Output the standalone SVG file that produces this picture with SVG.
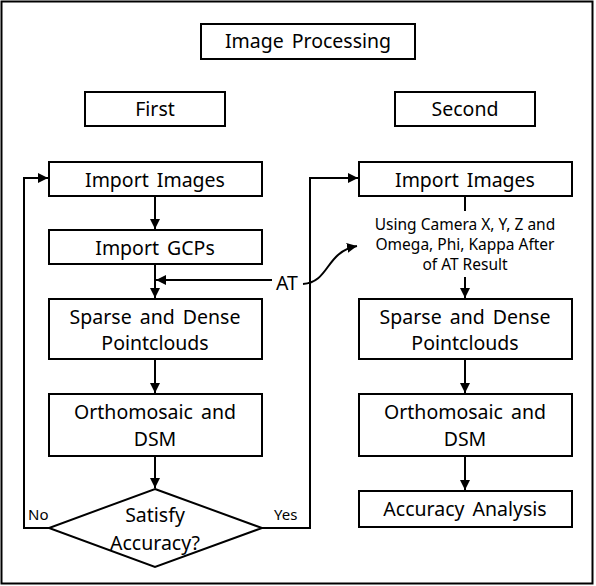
<svg xmlns="http://www.w3.org/2000/svg" width="596" height="586" viewBox="0 0 596 586">
<style>
.box{fill:#fff;stroke:#000;stroke-width:2}
.t{font-family:"Noto Sans","Liberation Sans",sans-serif;font-size:19.5px;fill:#000;text-anchor:middle;word-spacing:3px}
.s{font-family:"Noto Sans","Liberation Sans",sans-serif;font-size:15.5px;fill:#000;text-anchor:middle}
.l{font-family:"Noto Sans","Liberation Sans",sans-serif;font-size:15px;fill:#000}
.c{fill:none;stroke:#000;stroke-width:2}
</style>
<defs>
<marker id="a" viewBox="0 0 10 10" refX="10" refY="5" markerWidth="5" markerHeight="5" orient="auto" markerUnits="strokeWidth">
<path d="M0,0 L10,5 L0,10 z" fill="#000"/>
</marker>
</defs>
<rect x="1.5" y="1.5" width="591" height="582" fill="#fff" stroke="#000" stroke-width="2"/>
<g id="title"><rect class="box" x="201" y="24" width="214" height="35"/><text class="t" x="308" y="48">Image Processing</text></g>
<g id="first"><rect class="box" x="85" y="92" width="140" height="34"/><text class="t" x="155" y="116">First</text></g>
<g id="second"><rect class="box" x="395" y="92" width="140" height="34"/><text class="t" x="465" y="116">Second</text></g>
<g id="l1"><rect class="box" x="49" y="162" width="213" height="34"/><text class="t" x="155" y="187">Import Images</text></g>
<g id="l2"><rect class="box" x="49" y="230" width="213" height="34"/><text class="t" x="155" y="255">Import GCPs</text></g>
<g id="l3"><rect class="box" x="49" y="299" width="213" height="60"/><text class="t" x="155" y="324">Sparse and Dense</text><text class="t" x="155" y="350">Pointclouds</text></g>
<g id="l4"><rect class="box" x="49" y="394" width="213" height="62"/><text class="t" x="155" y="419">Orthomosaic and</text><text class="t" x="155" y="446">DSM</text></g>
<g id="l5"><polygon class="box" points="155,489 262,528 155,567 49,528"/><text class="t" x="155" y="522">Satisfy</text><text class="t" x="155" y="550">Accuracy?</text></g>
<g id="r1"><rect class="box" x="359" y="162" width="213" height="34"/><text class="t" x="465" y="187">Import Images</text></g>
<g id="rnote"><text class="s" x="465" y="230">Using Camera X, Y, Z and</text><text class="s" x="465" y="250">Omega, Phi, Kappa After</text><text class="s" x="465" y="270">of AT Result</text></g>
<g id="r3"><rect class="box" x="359" y="299" width="213" height="60"/><text class="t" x="465" y="324">Sparse and Dense</text><text class="t" x="465" y="350">Pointclouds</text></g>
<g id="r4"><rect class="box" x="359" y="394" width="213" height="62"/><text class="t" x="465" y="419">Orthomosaic and</text><text class="t" x="465" y="446">DSM</text></g>
<g id="r5"><rect class="box" x="359" y="491" width="213" height="36"/><text class="t" x="465" y="516">Accuracy Analysis</text></g>
<g id="at"><text class="l" x="276" y="290" style="font-size:19.5px">AT</text></g>
<g id="connectors">
<line class="c" x1="155" y1="196" x2="155" y2="229" marker-end="url(#a)"/>
<line class="c" x1="155" y1="264" x2="155" y2="298" marker-end="url(#a)"/>
<line class="c" x1="272" y1="280" x2="156" y2="280" marker-end="url(#a)"/>
<line class="c" x1="155" y1="359" x2="155" y2="393" marker-end="url(#a)"/>
<line class="c" x1="155" y1="456" x2="155" y2="488" marker-end="url(#a)"/>
<polyline class="c" points="49,528 24,528 24,178 48,178" marker-end="url(#a)"/>
<polyline class="c" points="262,528 310,528 310,178 358,178" marker-end="url(#a)"/>
<path class="c" d="M303,284 C330,282 325,252 357,246" marker-end="url(#a)"/>
<line class="c" x1="465" y1="196" x2="465" y2="211"/>
<line class="c" x1="465" y1="277" x2="465" y2="298" marker-end="url(#a)"/>
<line class="c" x1="465" y1="359" x2="465" y2="393" marker-end="url(#a)"/>
<line class="c" x1="465" y1="456" x2="465" y2="490" marker-end="url(#a)"/>
<text class="l" x="28" y="520">No</text>
<text class="l" x="274" y="520">Yes</text>
</g>
</svg>
